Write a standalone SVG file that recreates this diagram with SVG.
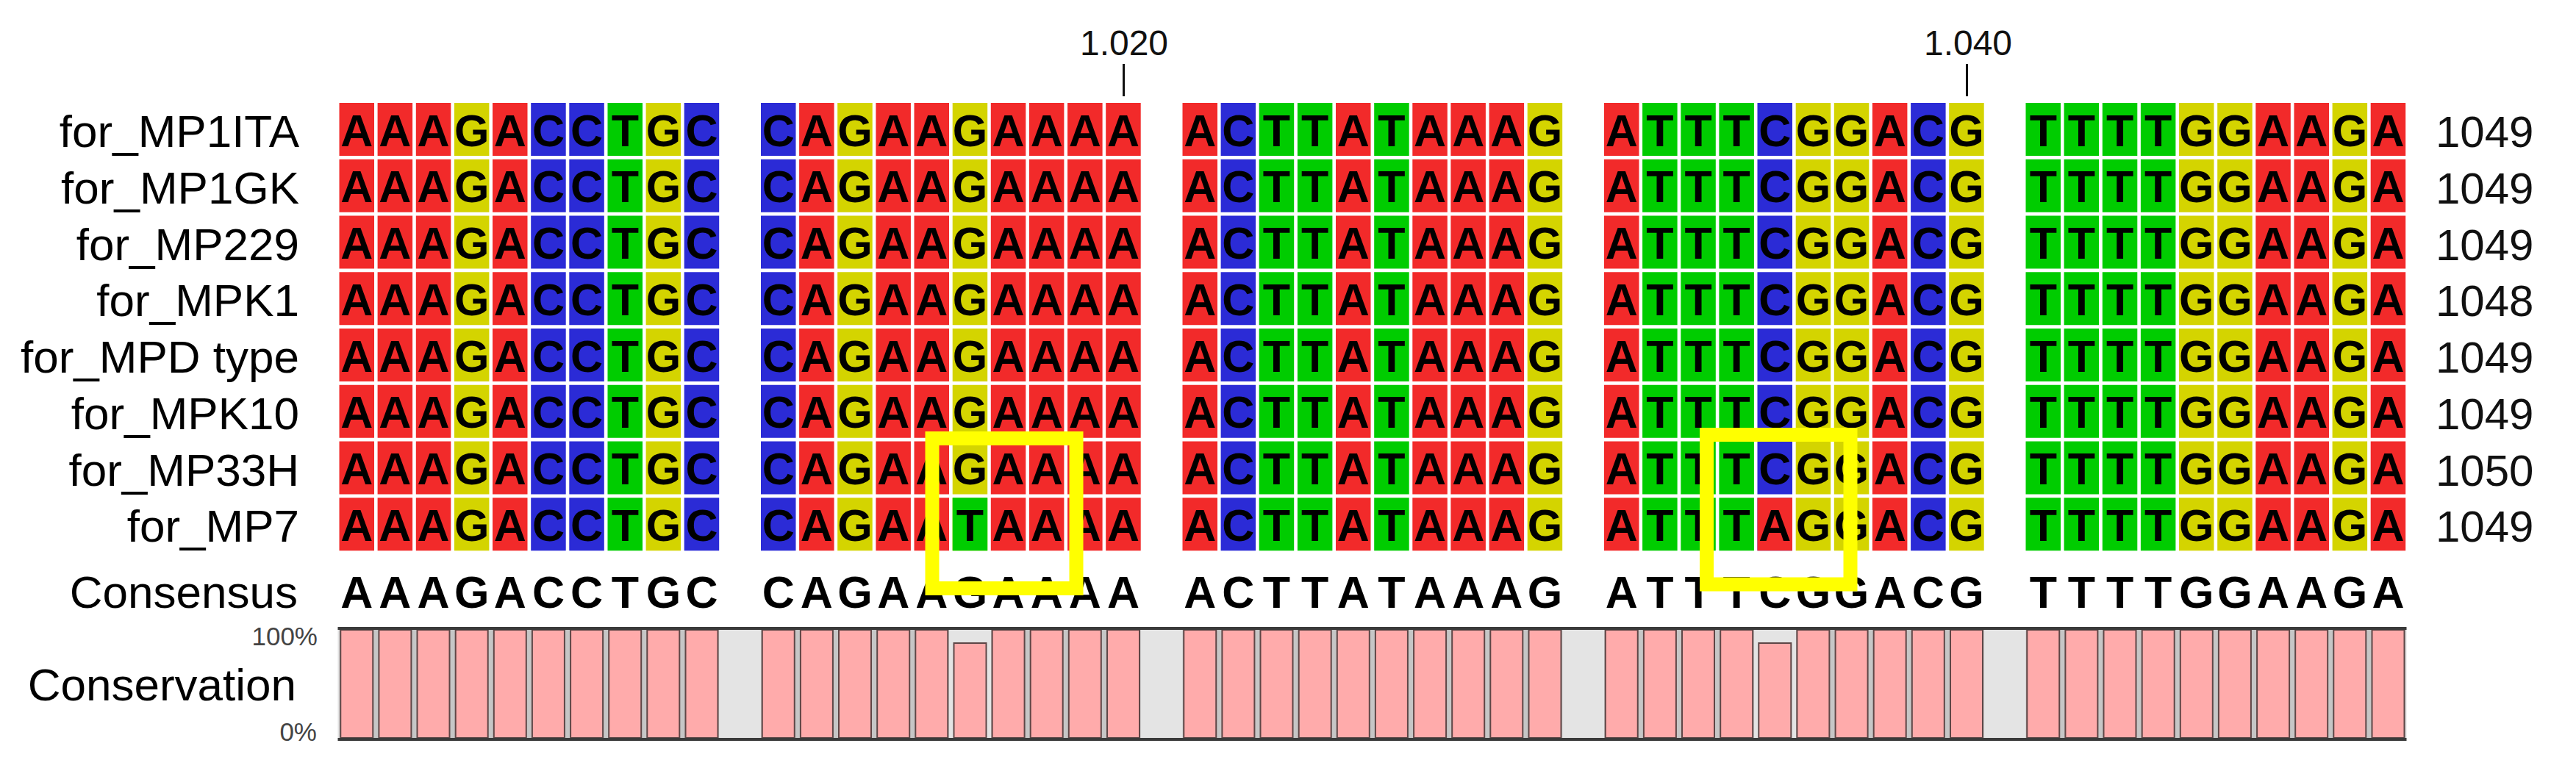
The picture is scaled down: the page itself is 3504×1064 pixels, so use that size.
<svg xmlns="http://www.w3.org/2000/svg" xmlns:xlink="http://www.w3.org/1999/xlink" width="3504" height="1064" viewBox="0 0 3504 1064">
<style>
text{font-family:"Liberation Sans",Arial,sans-serif}
.lbl{font-size:62px;fill:#000;text-anchor:end}
.seq{font-size:61px;font-weight:bold;fill:#000;text-anchor:middle}
.num{font-size:60px;fill:#111}
.tick{font-size:48px;fill:#111;text-anchor:middle}
.pct{font-size:35px;fill:#444;text-anchor:end}
.box{fill:none;stroke:#ffff00;stroke-width:19}
</style>
<defs>
<rect id="A" width="47.5" height="72" fill="#f22a2a"/>
<rect id="C" width="47.5" height="72" fill="#2b2bd6"/>
<rect id="G" width="47.5" height="72" fill="#d4d400"/>
<rect id="T" width="47.5" height="72" fill="#00cc00"/>
<rect id="bar" width="44" height="147" fill="#ffabab" stroke="#5e4646" stroke-width="2"/>
<rect id="barlow" width="44" height="129" fill="#ffabab" stroke="#5e4646" stroke-width="2"/>
<g id="rowcells">
<use href="#A" x="461.5"/><use href="#A" x="513.6"/><use href="#A" x="565.8"/><use href="#G" x="617.9"/><use href="#A" x="670"/><use href="#C" x="722.2"/><use href="#C" x="774.3"/><use href="#T" x="826.5"/><use href="#G" x="878.6"/><use href="#C" x="930.7"/>
<use href="#C" x="1035"/><use href="#A" x="1087.1"/><use href="#G" x="1139.2"/><use href="#A" x="1191.4"/><use href="#A" x="1243.5"/><use href="#G" x="1295.7"/><use href="#A" x="1347.8"/><use href="#A" x="1399.9"/><use href="#A" x="1452.1"/><use href="#A" x="1504.2"/>
<use href="#A" x="1608.5"/><use href="#C" x="1660.6"/><use href="#T" x="1712.7"/><use href="#T" x="1764.9"/><use href="#A" x="1817"/><use href="#T" x="1869.2"/><use href="#A" x="1921.3"/><use href="#A" x="1973.4"/><use href="#A" x="2025.6"/><use href="#G" x="2077.7"/>
<use href="#A" x="2182"/><use href="#T" x="2234.1"/><use href="#T" x="2286.3"/><use href="#T" x="2338.4"/><use href="#C" x="2390.5"/><use href="#G" x="2442.7"/><use href="#G" x="2494.8"/><use href="#A" x="2546.9"/><use href="#C" x="2599.1"/><use href="#G" x="2651.2"/>
<use href="#T" x="2755.5"/><use href="#T" x="2807.6"/><use href="#T" x="2859.8"/><use href="#T" x="2911.9"/><use href="#G" x="2964"/><use href="#G" x="3016.2"/><use href="#A" x="3068.3"/><use href="#A" x="3120.5"/><use href="#G" x="3172.6"/><use href="#A" x="3224.7"/>
</g>
<g id="blk">
<rect x="0" y="857" width="516.7" height="147" fill="#c6c6c6"/>
<use href="#bar" x="1.75" y="857"/><use href="#bar" x="53.9" y="857"/><use href="#bar" x="106" y="857"/><use href="#bar" x="158.2" y="857"/><use href="#bar" x="210.3" y="857"/><use href="#bar" x="262.4" y="857"/><use href="#bar" x="314.6" y="857"/><use href="#bar" x="366.7" y="857"/><use href="#bar" x="418.8" y="857"/><use href="#bar" x="471" y="857"/>
</g>
</defs>
<rect width="3504" height="1064" fill="#fff"/>

<g id="ruler">
<text class="tick" x="1529" y="75">1.020</text>
<line x1="1528.5" y1="87" x2="1528.5" y2="131" stroke="#111" stroke-width="3"/>
<text class="tick" x="2677" y="75">1.040</text>
<line x1="2675.5" y1="87" x2="2675.5" y2="131" stroke="#111" stroke-width="3"/>
</g>

<g id="labels">
<text class="lbl" x="407" y="200">for_MP1ITA</text>
<text class="lbl" x="407" y="276.75">for_MP1GK</text>
<text class="lbl" x="407" y="353.5">for_MP229</text>
<text class="lbl" x="407" y="430.25">for_MPK1</text>
<text class="lbl" x="407" y="507">for_MPD type</text>
<text class="lbl" x="407" y="583.75">for_MPK10</text>
<text class="lbl" x="407" y="660.5">for_MP33H</text>
<text class="lbl" x="407" y="737.25">for_MP7</text>
<text class="lbl" x="405" y="827">Consensus</text>
<text class="lbl" x="403" y="953">Conservation</text>
<text class="pct" x="432" y="878">100%</text>
<text class="pct" x="431" y="1008">0%</text>
</g>

<g id="cells">
<use href="#rowcells" y="140"/>
<use href="#rowcells" y="216.75"/>
<use href="#rowcells" y="293.5"/>
<use href="#rowcells" y="370.25"/>
<use href="#rowcells" y="447"/>
<use href="#rowcells" y="523.75"/>
<use href="#rowcells" y="600.5"/>
<use href="#rowcells" y="677.25"/>
<use href="#T" x="1295.7" y="677.25"/>
<use href="#A" x="2390.5" y="677.25"/>
</g>

<g id="letters">
<text class="seq" y="198.5" x="485.3 537.4 589.6 641.7 693.8 746 798.1 850.3 902.4 954.5 1058.8 1110.9 1163 1215.2 1267.3 1319.5 1371.6 1423.7 1475.9 1528 1632.3 1684.4 1736.5 1788.7 1840.8 1893 1945.1 1997.2 2049.4 2101.5 2205.8 2257.9 2310.1 2362.2 2414.3 2466.5 2518.6 2570.7 2622.9 2675 2779.3 2831.4 2883.6 2935.7 2987.8 3040 3092.1 3144.3 3196.4 3248.5">AAAGACCTGCCAGAAGAAAAACTTATAAAGATTTCGGACGTTTTGGAAGA</text>
<text class="seq" y="275.25" x="485.3 537.4 589.6 641.7 693.8 746 798.1 850.3 902.4 954.5 1058.8 1110.9 1163 1215.2 1267.3 1319.5 1371.6 1423.7 1475.9 1528 1632.3 1684.4 1736.5 1788.7 1840.8 1893 1945.1 1997.2 2049.4 2101.5 2205.8 2257.9 2310.1 2362.2 2414.3 2466.5 2518.6 2570.7 2622.9 2675 2779.3 2831.4 2883.6 2935.7 2987.8 3040 3092.1 3144.3 3196.4 3248.5">AAAGACCTGCCAGAAGAAAAACTTATAAAGATTTCGGACGTTTTGGAAGA</text>
<text class="seq" y="352" x="485.3 537.4 589.6 641.7 693.8 746 798.1 850.3 902.4 954.5 1058.8 1110.9 1163 1215.2 1267.3 1319.5 1371.6 1423.7 1475.9 1528 1632.3 1684.4 1736.5 1788.7 1840.8 1893 1945.1 1997.2 2049.4 2101.5 2205.8 2257.9 2310.1 2362.2 2414.3 2466.5 2518.6 2570.7 2622.9 2675 2779.3 2831.4 2883.6 2935.7 2987.8 3040 3092.1 3144.3 3196.4 3248.5">AAAGACCTGCCAGAAGAAAAACTTATAAAGATTTCGGACGTTTTGGAAGA</text>
<text class="seq" y="428.75" x="485.3 537.4 589.6 641.7 693.8 746 798.1 850.3 902.4 954.5 1058.8 1110.9 1163 1215.2 1267.3 1319.5 1371.6 1423.7 1475.9 1528 1632.3 1684.4 1736.5 1788.7 1840.8 1893 1945.1 1997.2 2049.4 2101.5 2205.8 2257.9 2310.1 2362.2 2414.3 2466.5 2518.6 2570.7 2622.9 2675 2779.3 2831.4 2883.6 2935.7 2987.8 3040 3092.1 3144.3 3196.4 3248.5">AAAGACCTGCCAGAAGAAAAACTTATAAAGATTTCGGACGTTTTGGAAGA</text>
<text class="seq" y="505.5" x="485.3 537.4 589.6 641.7 693.8 746 798.1 850.3 902.4 954.5 1058.8 1110.9 1163 1215.2 1267.3 1319.5 1371.6 1423.7 1475.9 1528 1632.3 1684.4 1736.5 1788.7 1840.8 1893 1945.1 1997.2 2049.4 2101.5 2205.8 2257.9 2310.1 2362.2 2414.3 2466.5 2518.6 2570.7 2622.9 2675 2779.3 2831.4 2883.6 2935.7 2987.8 3040 3092.1 3144.3 3196.4 3248.5">AAAGACCTGCCAGAAGAAAAACTTATAAAGATTTCGGACGTTTTGGAAGA</text>
<text class="seq" y="582.25" x="485.3 537.4 589.6 641.7 693.8 746 798.1 850.3 902.4 954.5 1058.8 1110.9 1163 1215.2 1267.3 1319.5 1371.6 1423.7 1475.9 1528 1632.3 1684.4 1736.5 1788.7 1840.8 1893 1945.1 1997.2 2049.4 2101.5 2205.8 2257.9 2310.1 2362.2 2414.3 2466.5 2518.6 2570.7 2622.9 2675 2779.3 2831.4 2883.6 2935.7 2987.8 3040 3092.1 3144.3 3196.4 3248.5">AAAGACCTGCCAGAAGAAAAACTTATAAAGATTTCGGACGTTTTGGAAGA</text>
<text class="seq" y="659" x="485.3 537.4 589.6 641.7 693.8 746 798.1 850.3 902.4 954.5 1058.8 1110.9 1163 1215.2 1267.3 1319.5 1371.6 1423.7 1475.9 1528 1632.3 1684.4 1736.5 1788.7 1840.8 1893 1945.1 1997.2 2049.4 2101.5 2205.8 2257.9 2310.1 2362.2 2414.3 2466.5 2518.6 2570.7 2622.9 2675 2779.3 2831.4 2883.6 2935.7 2987.8 3040 3092.1 3144.3 3196.4 3248.5">AAAGACCTGCCAGAAGAAAAACTTATAAAGATTTCGGACGTTTTGGAAGA</text>
<text class="seq" y="735.75" x="485.3 537.4 589.6 641.7 693.8 746 798.1 850.3 902.4 954.5 1058.8 1110.9 1163 1215.2 1267.3 1319.5 1371.6 1423.7 1475.9 1528 1632.3 1684.4 1736.5 1788.7 1840.8 1893 1945.1 1997.2 2049.4 2101.5 2205.8 2257.9 2310.1 2362.2 2414.3 2466.5 2518.6 2570.7 2622.9 2675 2779.3 2831.4 2883.6 2935.7 2987.8 3040 3092.1 3144.3 3196.4 3248.5">AAAGACCTGCCAGAATAAAAACTTATAAAGATTTAGGACGTTTTGGAAGA</text>
<text class="seq" y="827" x="485.3 537.4 589.6 641.7 693.8 746 798.1 850.3 902.4 954.5 1058.8 1110.9 1163 1215.2 1267.3 1319.5 1371.6 1423.7 1475.9 1528 1632.3 1684.4 1736.5 1788.7 1840.8 1893 1945.1 1997.2 2049.4 2101.5 2205.8 2257.9 2310.1 2362.2 2414.3 2466.5 2518.6 2570.7 2622.9 2675 2779.3 2831.4 2883.6 2935.7 2987.8 3040 3092.1 3144.3 3196.4 3248.5">AAAGACCTGCCAGAAGAAAAACTTATAAAGATTTCGGACGTTTTGGAAGA</text>
</g>

<g id="lengths">
<text class="num" x="3313" y="200">1049</text>
<text class="num" x="3313" y="276.75">1049</text>
<text class="num" x="3313" y="353.5">1049</text>
<text class="num" x="3313" y="430.25">1048</text>
<text class="num" x="3313" y="507">1049</text>
<text class="num" x="3313" y="583.75">1049</text>
<text class="num" x="3313" y="660.5">1050</text>
<text class="num" x="3313" y="737.25">1049</text>
</g>

<g id="conservation">
<rect x="459.5" y="855" width="2814" height="150" fill="#e4e4e4"/>
<use href="#blk" x="461.5"/>
<use href="#blk" x="1035"/>
<use href="#blk" x="1608.5"/>
<use href="#blk" x="2182"/>
<use href="#blk" x="2755.5"/>
<rect x="1291" y="857" width="57" height="147" fill="#e4e4e4"/>
<use href="#barlow" x="1297.5" y="875"/>
<rect x="2386" y="857" width="57" height="147" fill="#e4e4e4"/>
<use href="#barlow" x="2392.3" y="875"/>
<rect x="459.5" y="853" width="2814" height="4" fill="#3a3a3a"/>
<rect x="459.5" y="1004" width="2814" height="4" fill="#3a3a3a"/>
</g>

<g id="highlights">
<rect class="box" x="1268" y="596.5" width="196" height="204"/>
<rect class="box" x="2321.5" y="591.5" width="195.5" height="203.5"/>
</g>
</svg>
